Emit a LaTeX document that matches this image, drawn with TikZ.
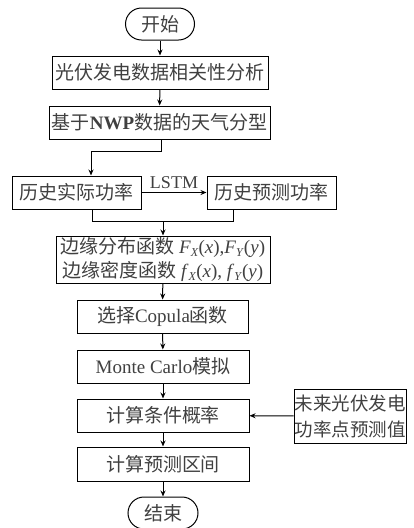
\documentclass[tikz,border=0pt]{standalone}
\usepackage{fontspec}
\setmainfont{Liberation Serif}
\newfontfamily\cjk{Noto Sans CJK SC}
\usetikzlibrary{arrows.meta}
\newcommand{\fsub}[2]{\textit{#1}\raisebox{-0.35ex}{\fontsize{12pt}{12pt}\selectfont\textit{#2}}}
\begin{document}
\begin{tikzpicture}[x=1pt,y=-1pt,
  box/.style={draw=black, line width=1pt, rectangle, inner sep=0pt, text=black!75,
    font=\fontsize{19pt}{23pt}\selectfont\cjk, align=center},
  term/.style={box, rounded corners=16pt},
  arr/.style={line width=1pt, -{Stealth[length=6pt,width=5pt]}},
  ln/.style={line width=1pt}]
\useasboundingbox (0,0) rectangle (414,528);
\node[term, minimum width=69pt, minimum height=32pt] (start) at (160,24) {开始};
\node[box, minimum width=216pt, minimum height=33pt] (b1) at (160,72.5) {光伏发电数据相关性分析};
\node[box, minimum width=221pt, minimum height=33pt] (b2) at (159.5,122.5) {基于{\rmfamily\bfseries NWP}数据的天气分型};
\node[box, minimum width=129pt, minimum height=33pt] (b3) at (76.5,192.5) {历史实际功率};
\node[box, minimum width=129pt, minimum height=33pt] (b4) at (271.5,192.5) {历史预测功率};
\node[box, minimum width=214pt, minimum height=47pt, font=\fontsize{19pt}{24pt}\selectfont\cjk] (b5) at (163,259.5)
  {边缘分布函数 {\rmfamily\fsub{F}{X}(\textit{x}),\fsub{F}{Y}(\textit{y})}\\
   边缘密度函数 {\rmfamily\fsub{f}{X}(\textit{x}), \fsub{f}{Y}(\textit{y})}};
\node[box, minimum width=171pt, minimum height=33pt] (b6) at (162.5,316.5) {选择{\rmfamily Copula}函数};
\node[box, minimum width=172pt, minimum height=33pt] (b7) at (163,366.5) {{\rmfamily Monte Carlo}模拟};
\node[box, minimum width=172pt, minimum height=33pt] (b8) at (163,415.5) {计算条件概率};
\node[box, minimum width=112pt, minimum height=54pt, font=\fontsize{18.5pt}{26pt}\selectfont\cjk] (side) at (350,416) {未来光伏发电\\功率点预测值};
\node[box, minimum width=172pt, minimum height=34pt] (b9) at (163,464) {计算预测区间};
\node[term, minimum width=70pt, minimum height=32pt] (end) at (163,513) {结束};
% connectors
\draw[arr] (start) -- (b1);
\draw[arr] (b1) -- (b2);
\coordinate (j1) at (91,151);
\draw[arr] (b2.south -| 161,0) |- (j1) -- (j1 |- b3.north);
\draw[arr] (b3) -- node[above=0pt, font=\fontsize{18pt}{18pt}\selectfont, text=black!75] (lstm) {LSTM} (b4);
\coordinate (j2) at (92,221);
\coordinate (j3) at (233,221);
\coordinate (j4) at (163,221);
\draw[ln] (j2 |- b3.south) -- (j2) -- (j3) -- (j3 |- b4.south);
\draw[arr] (j4) -- (b5.north -| j4);
\draw[arr] (b5) -- (b6);
\draw[arr] (b6) -- (b7);
\draw[arr] (b7) -- (b8);
\draw[arr] (side) -- (b8);
\draw[arr] (b8) -- (b9);
\draw[arr] (b9) -- (end);
\end{tikzpicture}
\end{document}
